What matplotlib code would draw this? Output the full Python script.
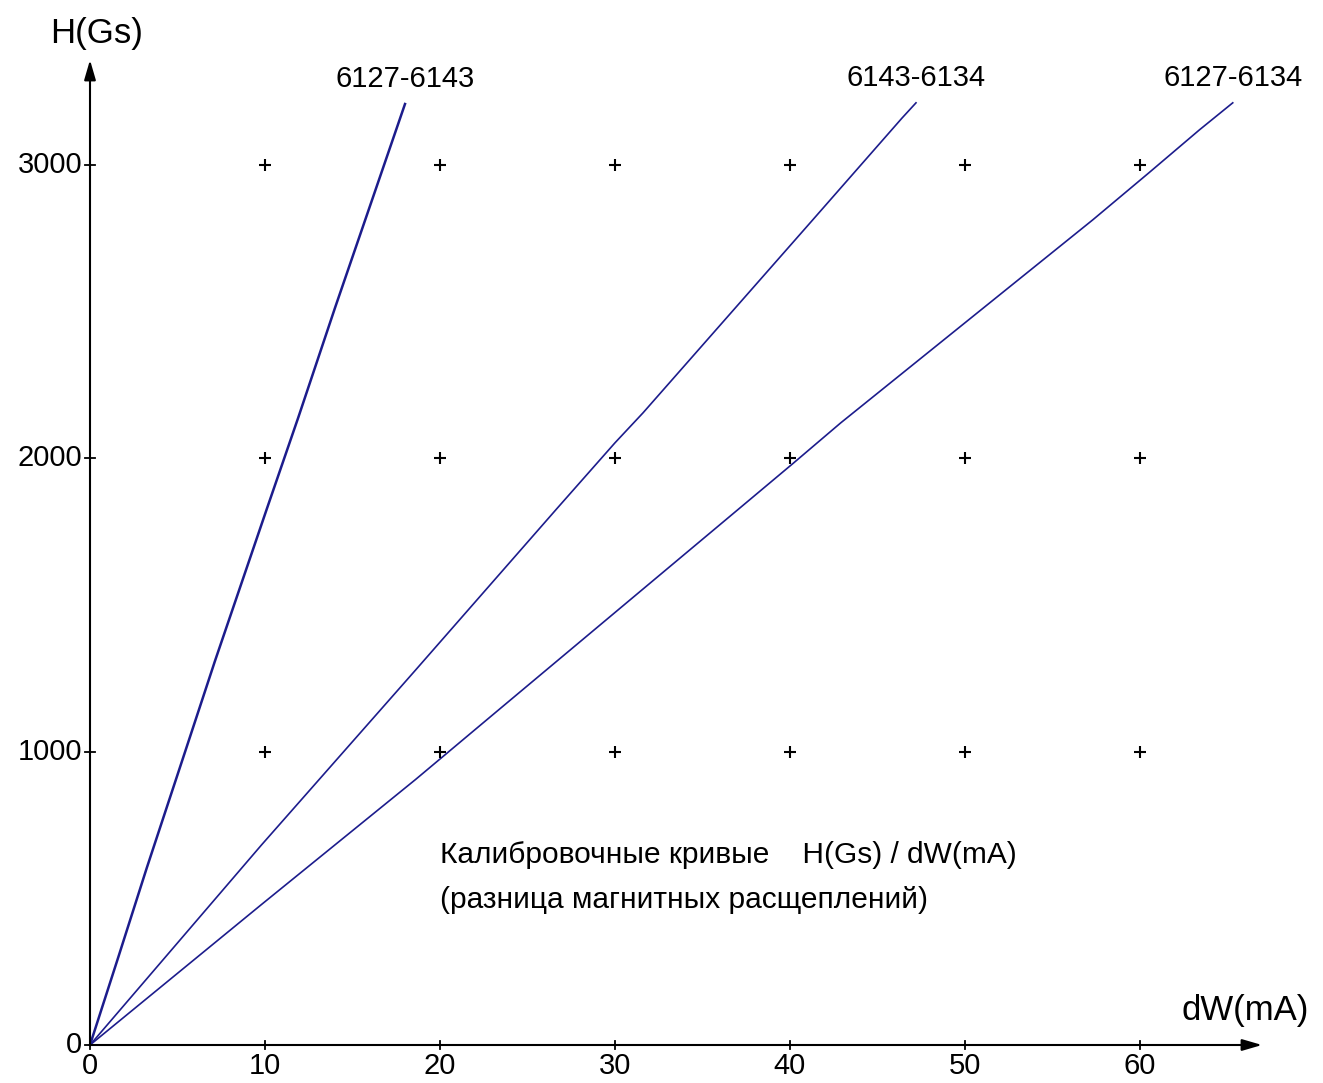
import matplotlib
matplotlib.use("Agg")
import matplotlib.pyplot as plt

plt.rcParams['font.family'] = ['Liberation Sans Narrow', 'Liberation Sans', 'DejaVu Sans']

# data
x1 = [0, 1.62, 3.24, 5.43, 7.14, 10.1, 11.9, 14.0, 18.0]
y1 = [0, 300, 603, 999, 1309, 1827, 2139, 2513, 3208]
x2 = [0, 9.8, 18.6, 26.7, 30.0, 31.6, 41.3, 46.4, 47.2]
y2 = [0, 682, 1278, 1830, 2053, 2155, 2813, 3160, 3212]
x3 = [0, 9.8, 18.6, 23.4, 37.0, 40.2, 42.9, 57.3, 60.5, 63.4, 65.3]
y3 = [0, 479, 905, 1145, 1824, 1984, 2121, 2813, 2973, 3120, 3212]
series_labels = ['6127-6143', '6143-6134', '6127-6134']
grid_x = [10, 20, 30, 40, 50, 60]
grid_y = [1000, 2000, 3000]
xticks = [0, 10, 20, 30, 40, 50, 60]
yticks = [0, 1000, 2000, 3000]

W, H = 1323, 1083
fig = plt.figure(figsize=(W / 100, H / 100), dpi=100)
ox, oy = 90, 1045
xr, yt = 1262, 60
ax = fig.add_axes([ox / W, (H - oy) / H, (xr - ox) / W, (oy - yt) / H])
xmax = (xr - ox) / 17.5
ymax = (oy - yt) / (293.33 / 1000)
ax.set_xlim(0, xmax)
ax.set_ylim(0, ymax)
for s in ax.spines.values():
    s.set_visible(False)
ax.set_xticks([])
ax.set_yticks([])

col = '#1c1c8c'
ax.plot(x1, y1, color=col, lw=1.8, clip_on=False)
ax.plot(x2, y2, color=col, lw=1.2, clip_on=False)
ax.plot(x3, y3, color=col, lw=1.2, clip_on=False)

# grid of plus markers
for gy in grid_y:
    ax.plot(grid_x, [gy] * len(grid_x), linestyle='none', marker='+',
            color='black', markersize=9, mew=1.5)

# axes with arrows
ax.annotate('', xy=(xmax, 0), xytext=(0, 0),
            arrowprops=dict(arrowstyle='-|>,head_length=1.2,head_width=0.35',
                            color='black', lw=1.5, shrinkA=0, shrinkB=0),
            annotation_clip=False)
ax.annotate('', xy=(0, ymax), xytext=(0, 0),
            arrowprops=dict(arrowstyle='-|>,head_length=1.2,head_width=0.35',
                            color='black', lw=1.5, shrinkA=0, shrinkB=0),
            annotation_clip=False)

fs = 21
# x ticks
for t in xticks:
    ax.plot([t, t], [-15, 15], color='black', lw=1.3, clip_on=False)
    ax.text(t, -25, str(t), ha='center', va='top', fontsize=fs)
# y ticks
for t in yticks:
    ax.plot([-0.3, 0.3], [t, t], color='black', lw=1.3, clip_on=False)
    ax.text(-0.45, t, str(t), ha='right', va='center', fontsize=fs)

# series labels at line ends
for xs, ys, lab in [(x1, y1, series_labels[0]), (x2, y2, series_labels[1]), (x3, y3, series_labels[2])]:
    ax.text(xs[-1], ys[-1] + 85, lab, ha='center', va='center', fontsize=fs)

ax.text(0.4, 3450, 'H(Gs)', ha='center', va='center', fontsize=fs + 4, clip_on=False)
ax.text(66.0, 119, 'dW(mA)', ha='center', va='center', fontsize=fs + 4, clip_on=False)

ax.text(20.0, 648, 'Калибровочные кривые    H(Gs) / dW(mA)', ha='left', va='center', fontsize=fs + 0.5)
ax.text(20.0, 494, '(разница магнитных расщеплений)', ha='left', va='center', fontsize=fs + 0.5)

fig.savefig('out.png', dpi=100, facecolor='white')
